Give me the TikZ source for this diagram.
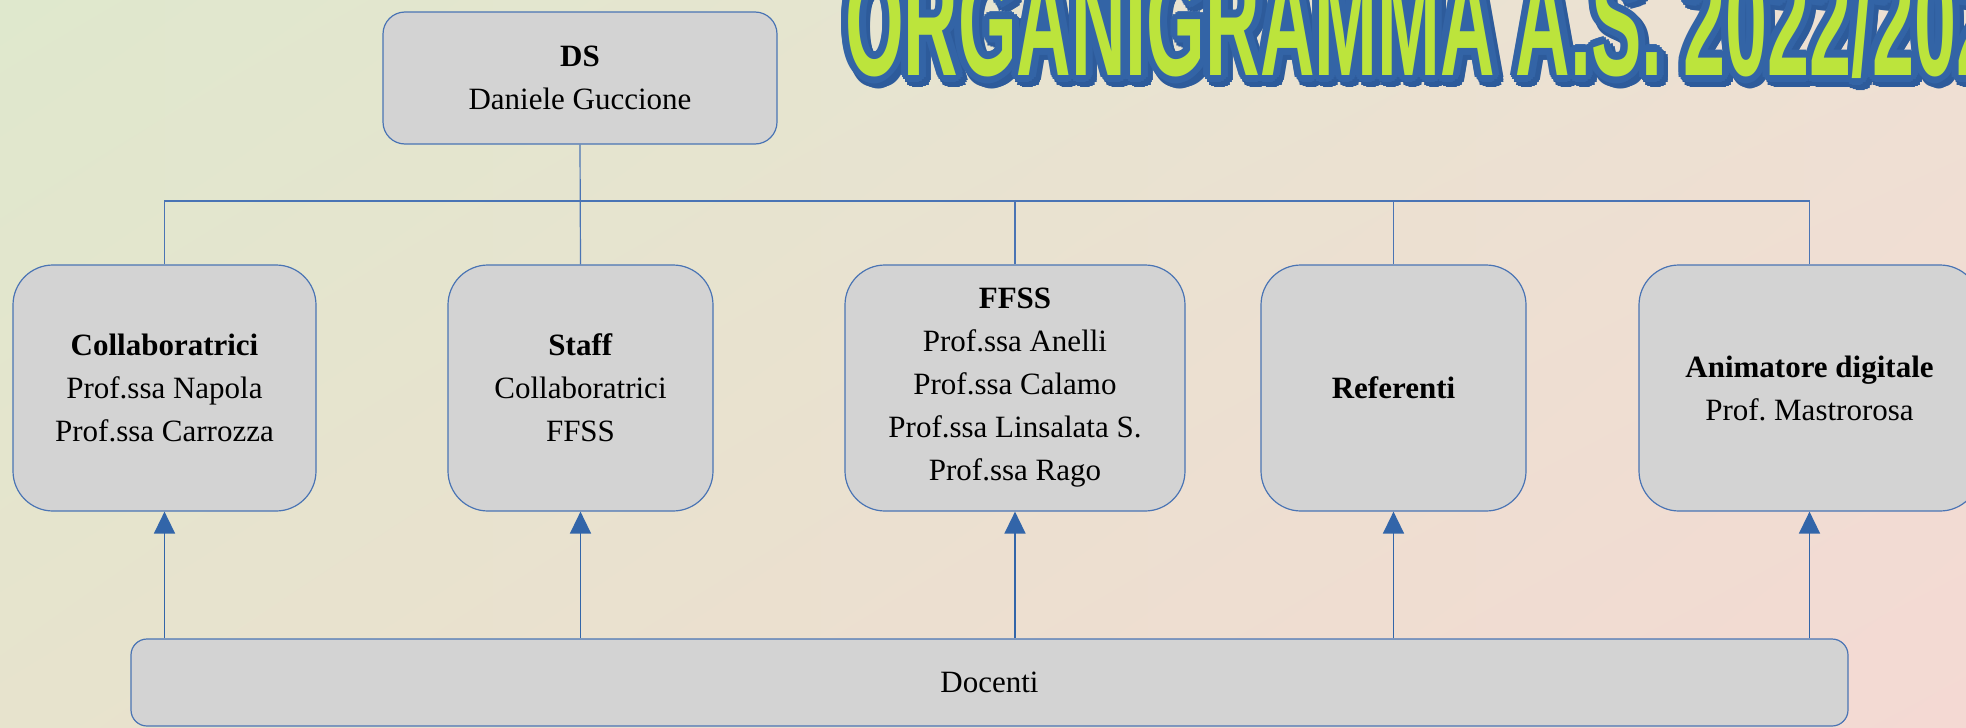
\documentclass[tikz,border=0pt]{standalone}
\usepackage{fontspec}
\usepackage{graphicx}
\setmainfont{Liberation Serif}
\newfontfamily\titlefont{Liberation Sans}
\usetikzlibrary{arrows.meta,shadings}
\frenchspacing
\definecolor{bgTL}{HTML}{DFE8CD}
\definecolor{bgTR}{HTML}{EEE0D3}
\definecolor{bgBL}{HTML}{E7E3CD}
\definecolor{bgBR}{HTML}{F4D9D3}
\definecolor{boxfill}{HTML}{D3D3D3}
\definecolor{boxline}{HTML}{4A74B4}
\definecolor{arrline}{HTML}{6A8CC0}
\definecolor{arrfill}{HTML}{3265A9}
\definecolor{ttlgreen}{HTML}{BCE43C}
\definecolor{ttlblue}{HTML}{3364A6}
\definecolor{ttlshadow}{HTML}{2D5B9B}
\newcommand\ttltext{\scalebox{0.49}[1]{\titlefont\bfseries\fontsize{77}{77}\selectfont ORGANIGRAMMA A.S. 2022/2023}}
\tikzset{
  box/.style={draw=boxline, fill=boxfill, line width=0.6pt, align=center, inner sep=0pt,
    font=\fontsize{15.5}{21.5}\selectfont},
  conn/.style={draw=boxline, line width=0.6pt},
  arr/.style={draw=arrline, line width=0.75pt, -{Triangle[length=11pt,width=10.5pt,fill=arrfill]}, color=arrfill},
  ttl/.style={anchor=base west, inner sep=0pt, outer sep=0pt},
}
\begin{document}
\begin{tikzpicture}[x=0.5pt,y=-0.5pt]
\useasboundingbox (0,0) rectangle (1966,728);
\clip (0,0) rectangle (1966,728);
\shade[upper left=bgTL, upper right=bgTR, lower left=bgBL, lower right=bgBR] (0,0) rectangle (1966,728);

% title
\foreach \a [count=\i] in {0,22.5,...,337.5} {
  \path ([shift={(\a:7.5)}]849,80) node[ttl, text=ttlshadow] (tsh\i) {\ttltext};
}
\foreach \a [count=\i] in {0,22.5,...,337.5} {
  \path ([shift={(\a:7)}]845,75) node[ttl, text=ttlblue] (tol\i) {\ttltext};
}
\foreach \a [count=\i] in {0,45,...,315} {
  \path ([shift={(\a:3.5)}]845,75) node[ttl, text=ttlblue] (tin\i) {\ttltext};
}
\node[ttl, text=ttlgreen] (title) at (845,75) {\ttltext};

% boxes
\node[box, rounded corners=11pt, minimum width=197pt, minimum height=66pt] (ds) at (580,78)
  {\textbf{DS}\\Daniele Guccione};
\node[box, rounded corners=20pt, minimum width=151.5pt, minimum height=123pt] (coll) at (164.5,388)
  {\textbf{Collaboratrici}\\Prof.ssa Napola\\Prof.ssa Carrozza};
\node[box, rounded corners=20pt, minimum width=132.5pt, minimum height=123pt] (staff) at (580.5,388)
  {\textbf{Staff}\\Collaboratrici\\FFSS};
\node[box, rounded corners=20pt, minimum width=170pt, minimum height=123pt] (ffss) at (1015,388)
  {\textbf{FFSS}\\Prof.ssa Anelli\\Prof.ssa Calamo\\Prof.ssa Linsalata S.\\Prof.ssa Rago};
\node[box, rounded corners=20pt, minimum width=132.5pt, minimum height=123pt] (refe) at (1393.5,388)
  {\textbf{Referenti}};
\node[box, rounded corners=20pt, minimum width=170.5pt, minimum height=123pt] (anim) at (1809.5,388)
  {\textbf{Animatore digitale}\\Prof. Mastrorosa};
\node[box, rounded corners=8pt, minimum width=858.5pt, minimum height=43.5pt] (doc) at (989.5,682.5)
  {Docenti};

% tree connectors
\coordinate (bus) at (0,201);
\draw[conn] (ds.south) -- (staff.north);
\draw[conn] (coll.north) -- (coll.north |- bus) -- (anim.north |- bus) -- (anim.north);
\draw[conn] (ffss.north) -- (ffss.north |- bus);
\draw[conn] (refe.north) -- (refe.north |- bus);

% arrows from Docenti
\foreach \n in {coll,staff,ffss,refe,anim} {
  \draw[arr] (\n.south |- doc.north) -- (\n.south);
}
\end{tikzpicture}
\end{document}
